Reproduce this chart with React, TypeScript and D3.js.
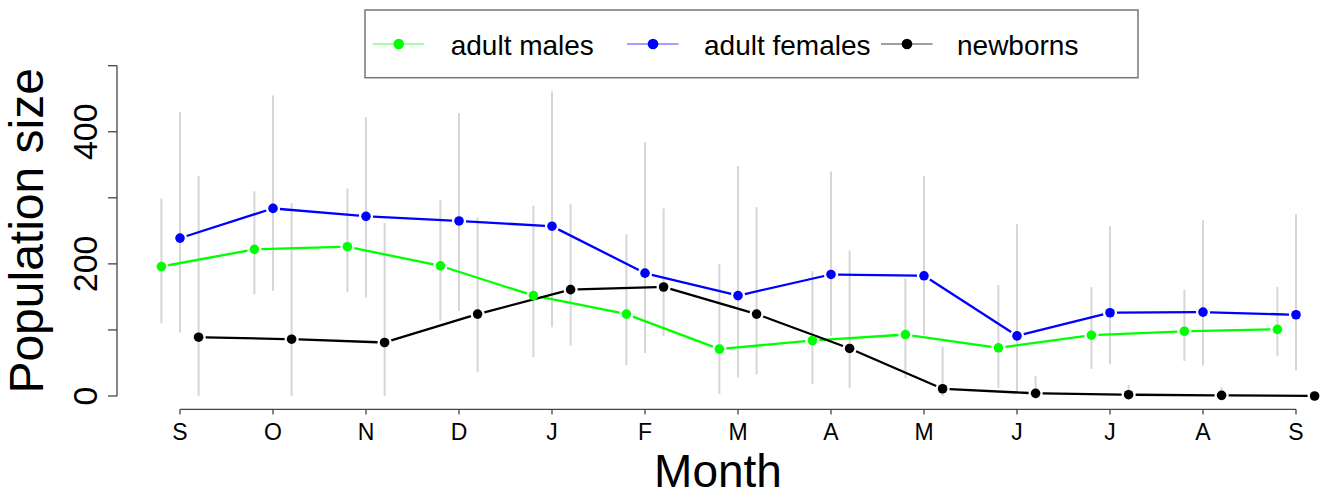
import React from 'react';
import * as d3 from 'd3';

// month labels along the x axis (Sep .. Sep)
const months = ['S', 'O', 'N', 'D', 'J', 'F', 'M', 'A', 'M', 'J', 'J', 'A', 'S'];

const malesMean = [196, 222, 226, 197, 152, 124, 71, 84, 93, 73, 92, 98, 101];
const malesLow = [110, 154, 157, 114, 59, 47, 3, 18, 27, 12, 41, 53, 61];
const malesHigh = [299, 310, 314, 297, 288, 245, 200, 189, 178, 168, 165, 161, 165];

const femalesMean = [239, 284, 272, 265, 257, 186, 152, 184, 182, 91, 126, 127, 123];
const femalesLow = [96, 159, 149, 129, 104, 65, 28, 91, 92, 6, 48, 46, 39];
const femalesHigh = [430, 455, 422, 428, 461, 384, 348, 340, 333, 260, 257, 266, 275];

const newbornsMean = [89, 86, 81, 124, 161, 165, 124, 72, 11, 4, 2, 1, 0];
const newbornsLow = [0, 0, 0, 36, 76, 91, 33, 12, 0, 0, 0, 0, 0];
const newbornsHigh = [333, 292, 262, 270, 291, 284, 286, 220, 75, 30, 17, 13, 0];

const yTicks = [0, 100, 200, 300, 400, 500];
const yLabels = [0, 200, 400];

const series = [
  { name: 'adult males', color: '#00ff00', legendLine: '#80ff80', offset: -0.2, mean: malesMean, low: malesLow, high: malesHigh },
  { name: 'adult females', color: '#0000ff', legendLine: '#8080ff', offset: 0, mean: femalesMean, low: femalesLow, high: femalesHigh },
  { name: 'newborns', color: '#000000', legendLine: '#808080', offset: 0.2, mean: newbornsMean, low: newbornsLow, high: newbornsHigh },
];

const W = 1323;
const H = 496;
const font = '"Liberation Sans", Arial, sans-serif';

export default function App() {
  const x = d3.scaleLinear().domain([0, 12]).range([180, 1296]);
  const y = d3.scaleLinear().domain([0, 500]).range([396, 65.7]);
  const line = d3.line<[number, number]>();

  // R type="b": segments stop short of the points
  const gap = 7;
  const segments = (s) => {
    const pts = s.mean.map((v, i) => [x(i + s.offset), y(v)]);
    const out = [];
    for (let i = 0; i < pts.length - 1; i++) {
      const [x0, y0] = pts[i];
      const [x1, y1] = pts[i + 1];
      const len = Math.hypot(x1 - x0, y1 - y0);
      if (len <= 2 * gap) continue;
      const ux = (x1 - x0) / len, uy = (y1 - y0) / len;
      out.push(line([[x0 + ux * gap, y0 + uy * gap], [x1 - ux * gap, y1 - uy * gap]]));
    }
    return out;
  };

  const legendX = [372.7, 627, 881];
  const legendText = [450.7, 704, 957];

  return (
    <svg width={W} height={H} style={{ position: 'absolute', left: 0, top: 0, background: '#fff' }} fontFamily={font}>
      {/* error bars */}
      {series.map((s) =>
        s.mean.map((_, i) => (
          <line key={s.name + 'e' + i} x1={x(i + s.offset)} x2={x(i + s.offset)} y1={y(s.low[i])} y2={y(s.high[i])}
            stroke="#d6d6d6" strokeWidth={2} />
        ))
      )}
      {/* lines */}
      {series.map((s) =>
        segments(s).map((d, i) => <path key={s.name + 'l' + i} d={d} stroke={s.color} strokeWidth={2.3} fill="none" />)
      )}
      {/* points */}
      {series.map((s) =>
        s.mean.map((v, i) => <circle key={s.name + 'p' + i} cx={x(i + s.offset)} cy={y(v)} r={4.8} fill={s.color} />)
      )}

      {/* y axis */}
      <line x1={117} x2={117} y1={y(0)} y2={y(500)} stroke="#444" strokeWidth={1.3} />
      {yTicks.map((t) => (
        <line key={'yt' + t} x1={108} x2={117} y1={y(t)} y2={y(t)} stroke="#444" strokeWidth={1.3} />
      ))}
      {yLabels.map((t) => (
        <text key={'yl' + t} transform={`translate(97,${y(t)}) rotate(-90)`} textAnchor="middle" fontSize={34}>{t}</text>
      ))}
      <text transform={`translate(43,${(y(0) + y(500)) / 2}) rotate(-90)`} textAnchor="middle" fontSize={48}>Population size</text>

      {/* x axis */}
      <line x1={x(0)} x2={x(12)} y1={409.3} y2={409.3} stroke="#444" strokeWidth={1.3} />
      {months.map((m, i) => (
        <g key={'xt' + i}>
          <line x1={x(i)} x2={x(i)} y1={409.3} y2={414.5} stroke="#444" strokeWidth={1.3} />
          <text x={x(i)} y={439.5} textAnchor="middle" fontSize={23}>{m}</text>
        </g>
      ))}
      <text x={718} y={487} textAnchor="middle" fontSize={46}>Month</text>

      {/* legend */}
      <rect x={365} y={10} width={773} height={67.7} fill="#fff" stroke="#777" strokeWidth={1.5} />
      {series.map((s, i) => (
        <g key={'lg' + i}>
          <line x1={legendX[i]} x2={legendX[i] + 51.5} y1={44} y2={44} stroke={s.legendLine} strokeWidth={1.5} />
          <circle cx={legendX[i] + 26} cy={44} r={5.3} fill={s.color} />
          <text x={legendText[i]} y={55} fontSize={28}>{s.name}</text>
        </g>
      ))}
    </svg>
  );
}
